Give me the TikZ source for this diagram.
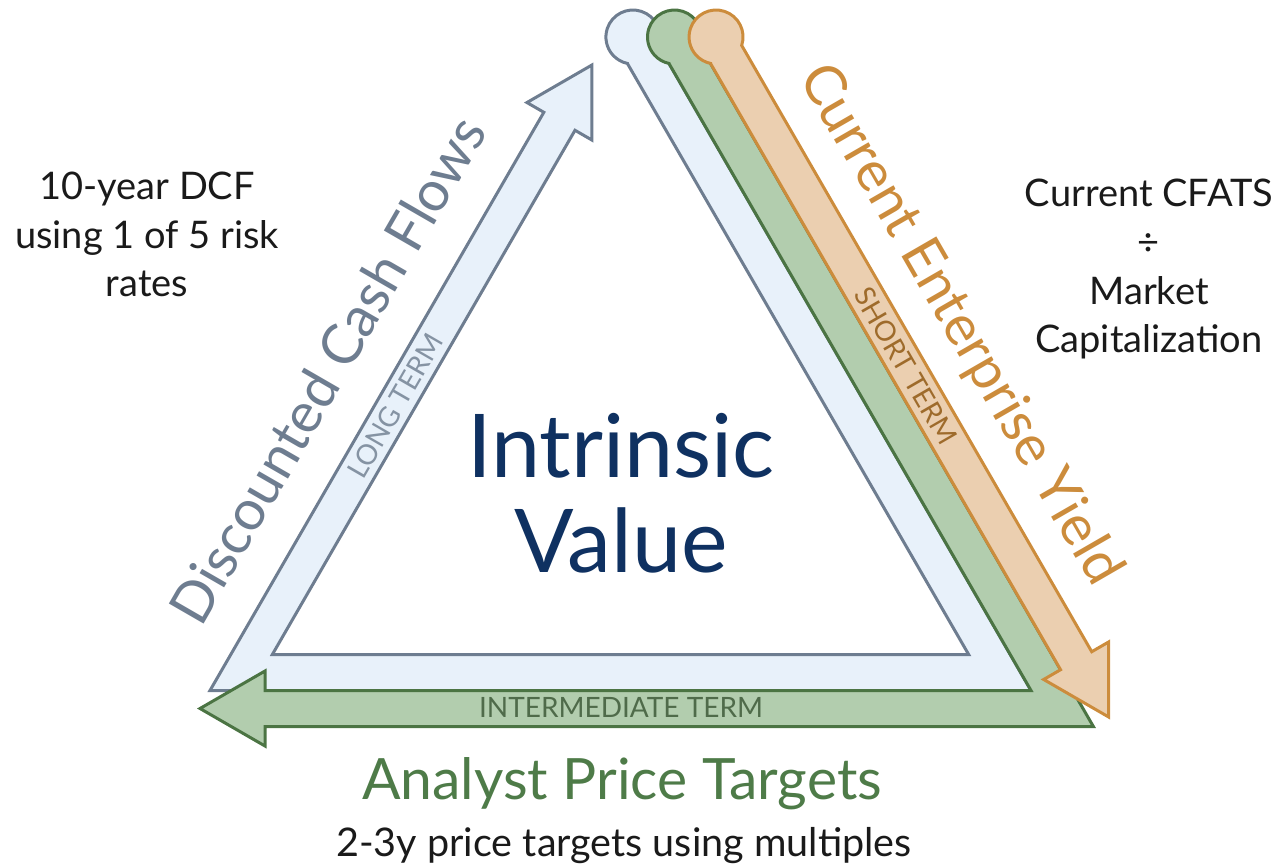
\documentclass[tikz,border=0pt]{standalone}
\usepackage{fontspec}
\setmainfont{Lato}
\definecolor{bluefill}{HTML}{E8F1FA}
\definecolor{bluedraw}{HTML}{6E7D90}
\definecolor{greenfill}{HTML}{B2CDAE}
\definecolor{greendraw}{HTML}{4B7443}
\definecolor{orangefill}{HTML}{EBCFB0}
\definecolor{orangedraw}{HTML}{CC8C3C}
\definecolor{navy}{HTML}{0F3161}
\definecolor{longc}{HTML}{8593A3}
\definecolor{shortc}{HTML}{9E6B2B}
\definecolor{interc}{HTML}{4F6B4A}
\definecolor{analystc}{HTML}{4E7B48}
\definecolor{txt}{HTML}{1A1A1A}
\begin{document}
\begin{tikzpicture}[x=1pt,y=-1pt,line width=3pt,
  bluepart/.style={fill=bluefill,draw=bluedraw},
  greenpart/.style={fill=greenfill,draw=greendraw},
  orangepart/.style={fill=orangefill,draw=orangedraw},
  lbl/.style={inner sep=0pt,outer sep=0pt},
  note/.style={lbl,anchor=base,text=txt,font=\fontsize{38}{48}\selectfont},
  bandtext/.style={lbl,anchor=center,font=\fontsize{28}{30}\selectfont},
  sidetitle/.style={lbl,anchor=base,font=\fontsize{56}{60}\selectfont}]
\useasboundingbox (0,0) rectangle (1278,868);
% blue frame: long term (left arrow up)
\path[bluepart] (627.38,63.43) -- (968.65,654.5) -- (272.35,654.5) -- (575.01,130.29)
  -- (591.90,140.04) -- (591.92,65) -- (526.94,102.54) -- (543.83,112.29)
  -- (210.0,690.5) -- (1031.0,690.5) -- (658.56,45.43)
  arc[start angle=18.19,end angle=-258.18,radius=27] -- cycle;
% green: intermediate term (bottom arrow left)
\path[greenpart] (668.95,63.43) -- (1031.0,690.5) -- (265,690.5) -- (265,671)
  -- (200,708.5) -- (265,746) -- (265,726.5) -- (1093.36,726.5) -- (700.13,45.43)
  arc[start angle=18.19,end angle=-258.18,radius=27] -- cycle;
% orange: short term (right arrow down)
\path[orangepart] (710.52,63.43) -- (1060.56,669.71) -- (1043.67,679.46) -- (1108.65,717)
  -- (1108.63,641.96) -- (1091.74,651.71) -- (741.70,45.43)
  arc[start angle=18.19,end angle=-258.18,radius=27] -- cycle;
% band labels
\node[bandtext,text=longc,rotate=60] (longterm) at (395,406) {LONG TERM};
\node[bandtext,text=shortc,rotate=-60] (shortterm) at (906,366) {SHORT TERM};
\node[bandtext,text=interc] (interterm) at (621,707) {INTERMEDIATE TERM};
% side titles
\node[sidetitle,text=bluedraw,rotate=60] (dcf) at (345,380) {Discounted Cash Flows};
\node[sidetitle,text=orangedraw,rotate=-60] (cey) at (946,333) {Current Enterprise Yield};
\node[lbl,anchor=base,text=analystc,font=\fontsize{57}{60}\selectfont] (apt) at (622,799) {Analyst Price Targets};
% centre
\node[lbl,anchor=base,text=navy,font=\fontsize{88}{95}\selectfont] (iv1) at (621,477) {Intrinsic};
\node[lbl,anchor=base,text=navy,font=\fontsize{88}{95}\selectfont] (iv2) at (621,572) {Value};
% notes
\node[note] (l1) at (147,199) {10-year DCF};
\node[note] (l2) at (147,248) {using 1 of 5 risk};
\node[note] (l3) at (147,296) {rates};
\node[note] (r1) at (1149,206) {Current CFATS};
\node[note] (r2) at (1149,255) {÷};
\node[note] (r3) at (1149,304) {Market};
\node[note] (r4) at (1149,352) {Capitalization};
\node[note,font=\fontsize{39.5}{48}\selectfont] (b1) at (624,856) {2-3y price targets using multiples};
\end{tikzpicture}
\end{document}
